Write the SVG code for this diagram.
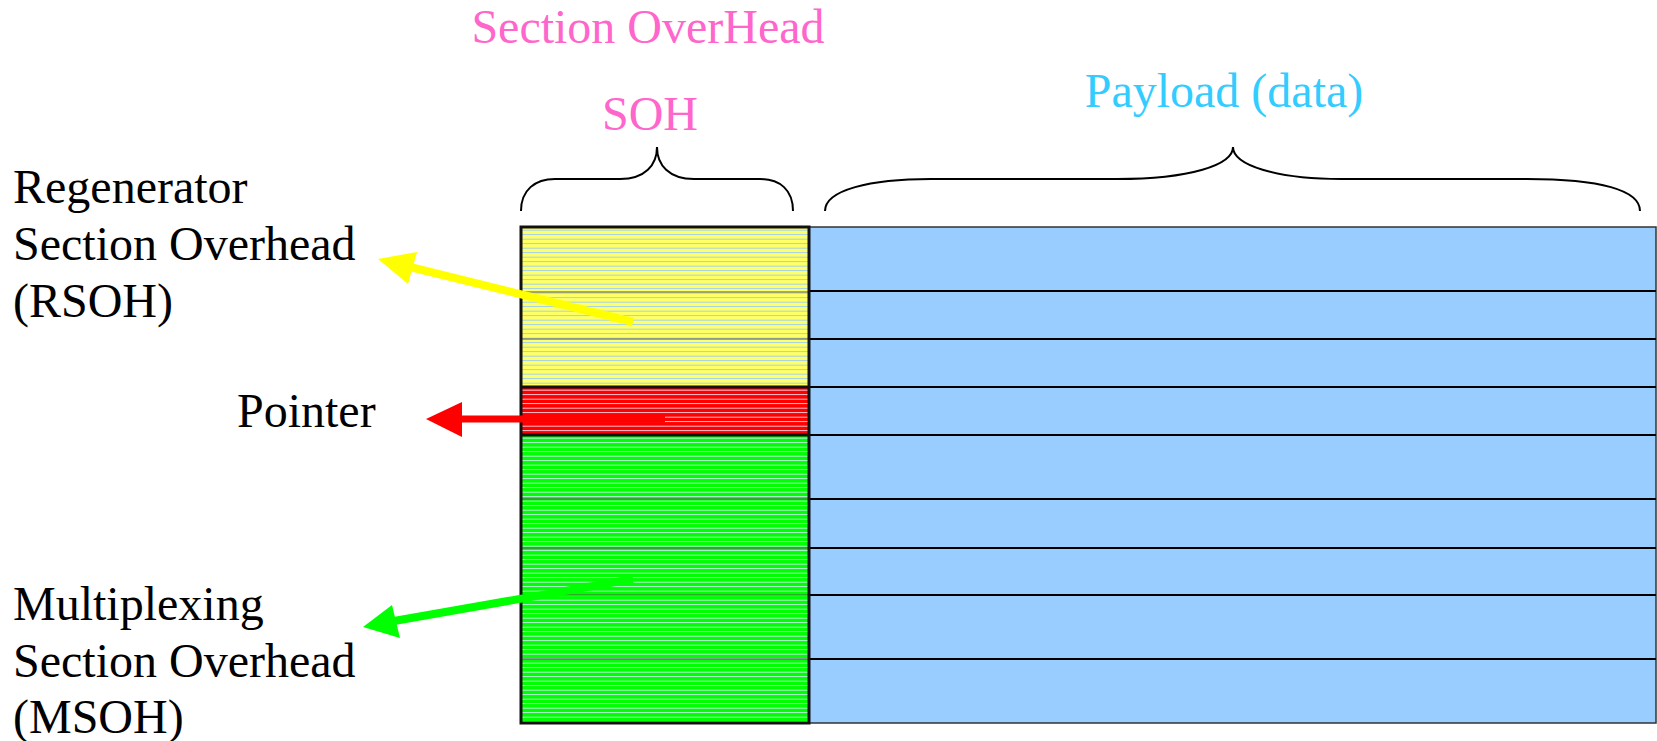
<svg xmlns="http://www.w3.org/2000/svg" width="1657" height="741" viewBox="0 0 1657 741">
<style>
text{font-family:"Liberation Serif","Times New Roman",serif;font-size:48px}
.lbl{fill:#000}
.pink{fill:#ff66cc}
.blue{fill:#33ccff}
.brace{fill:none;stroke:#000;stroke-width:2}
.div{stroke:#555;stroke-width:1.2}
.row{stroke:#000;stroke-width:1.8}
.st{shape-rendering:crispEdges}
</style>
<defs>
<pattern id="py" patternUnits="userSpaceOnUse" x="0" y="227" width="20" height="4.5">
<rect class="st" width="20" height="4.5" fill="#ffff66"/><rect class="st" y="3" width="20" height="1" fill="#99ccff"/>
</pattern>
<pattern id="pr" patternUnits="userSpaceOnUse" x="0" y="387" width="20" height="4.5">
<rect class="st" width="20" height="4.5" fill="#ff0000"/><rect class="st" y="3" width="20" height="1" fill="#ffd6e6"/>
</pattern>
<pattern id="pg" patternUnits="userSpaceOnUse" x="0" y="435" width="20" height="4.5">
<rect class="st" width="20" height="4.5" fill="#00ff00"/><rect class="st" y="3" width="20" height="1" fill="#c8e8f0"/>
</pattern>
</defs>
<rect width="1657" height="741" fill="#fff"/>

<g id="payload">
<rect x="809" y="227" width="847" height="496" fill="#99ccff" stroke="#333" stroke-width="1.5"/>
<line class="row" x1="809" y1="291" x2="1656" y2="291"/>
<line class="row" x1="809" y1="339" x2="1656" y2="339"/>
<line class="row" x1="809" y1="387" x2="1656" y2="387"/>
<line class="row" x1="809" y1="435" x2="1656" y2="435"/>
<line class="row" x1="809" y1="499" x2="1656" y2="499"/>
<line class="row" x1="809" y1="548" x2="1656" y2="548"/>
<line class="row" x1="809" y1="595" x2="1656" y2="595"/>
<line class="row" x1="809" y1="659" x2="1656" y2="659"/>
</g>

<g id="rsoh">
<rect x="521" y="227" width="288" height="160" fill="url(#py)"/>
<line class="div" x1="521" y1="292" x2="809" y2="292"/>
<line class="div" x1="521" y1="339" x2="809" y2="339"/>
</g>
<g id="pointer">
<rect x="521" y="387" width="288" height="48" fill="url(#pr)"/>
</g>
<g id="msoh">
<rect x="521" y="435" width="288" height="288" fill="url(#pg)"/>
<line class="div" x1="521" y1="499" x2="809" y2="499"/>
<line class="div" x1="521" y1="548" x2="809" y2="548"/>
<line class="div" x1="521" y1="595" x2="809" y2="595"/>
<line class="div" x1="521" y1="659" x2="809" y2="659"/>
</g>
<g id="soh-border" fill="none" stroke="#111" stroke-width="3">
<rect x="521" y="227" width="288" height="496"/>
<line x1="521" y1="387" x2="809" y2="387"/>
<line x1="521" y1="435" x2="809" y2="435"/>
</g>

<g id="braces">
<path class="brace" d="M521,211 C521,190 535,179 555,179 L620,179 C645,179 657,165 657,147 C657,165 669,179 694,179 L760,179 C780,179 793,190 793,211"/>
<path class="brace" d="M825,211 C825,190 870,179 931,179 L1117,179 C1190,179 1233,165 1233,147 C1233,165 1276,179 1341,179 L1527,179 C1600,179 1640,190 1640,211"/>
</g>

<g id="labels">
<text class="pink" x="648" y="43" text-anchor="middle">Section OverHead</text>
<text class="pink" x="650" y="130" text-anchor="middle">SOH</text>
<text class="blue" x="1224" y="107" text-anchor="middle">Payload (data)</text>
<text class="lbl" x="13" y="203">Regenerator</text>
<text class="lbl" x="13" y="260">Section Overhead</text>
<text class="lbl" x="13" y="317">(RSOH)</text>
<text class="lbl" x="237" y="427">Pointer</text>
<text class="lbl" x="13" y="620">Multiplexing</text>
<text class="lbl" x="13" y="677">Section Overhead</text>
<text class="lbl" x="13" y="733">(MSOH)</text>
</g>

<g id="connectors">
<line x1="633" y1="322" x2="410" y2="267" stroke="#ffff00" stroke-width="8"/>
<polygon points="378,259 417,252 408,284" fill="#ffff00"/>
<line x1="665" y1="419" x2="458" y2="419" stroke="#ff0000" stroke-width="7"/>
<polygon points="426,419 462,402 462,437" fill="#ff0000"/>
<line x1="633" y1="579" x2="394" y2="621" stroke="#00ff00" stroke-width="8"/>
<polygon points="363,627 392,605 400,638" fill="#00ff00"/>
</g>
</svg>
